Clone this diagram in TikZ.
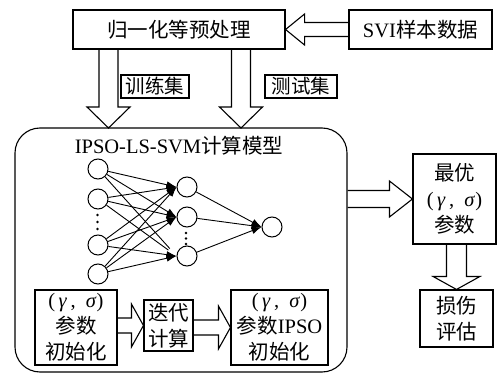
\documentclass[tikz,border=0pt]{standalone}
\usepackage{fontspec}
\setmainfont{Liberation Serif}
\newfontfamily\cjk{Noto Sans CJK SC}
\usetikzlibrary{arrows.meta,calc}
\newcommand\zh[1]{{\cjk #1}}
\newcommand\gs{(\,\textit{γ}\,,\enspace\textit{σ})}
% block arrows: #1 start anchor, #2 tip anchor, #3 body half width, #4 head half width, #5 head length
\newcommand\rightblock[5]{\draw[blockarr] let \p1=(#1),\p2=(#2) in
  (\x1,\y2+#3) -- (\x2-#5,\y2+#3) -- (\x2-#5,\y2+#4) -- (\x2,\y2) -- (\x2-#5,\y2-#4) -- (\x2-#5,\y2-#3) -- (\x1,\y2-#3);}
\newcommand\leftblock[5]{\draw[blockarr] let \p1=(#1),\p2=(#2) in
  (\x1,\y2+#3) -- (\x2+#5,\y2+#3) -- (\x2+#5,\y2+#4) -- (\x2,\y2) -- (\x2+#5,\y2-#4) -- (\x2+#5,\y2-#3) -- (\x1,\y2-#3);}
\newcommand\downblock[5]{\draw[blockarr] let \p1=(#1),\p2=(#2) in
  (\x2-#3,\y1) -- (\x2-#3,\y2+#5) -- (\x2-#4,\y2+#5) -- (\x2,\y2) -- (\x2+#4,\y2+#5) -- (\x2+#3,\y2+#5) -- (\x2+#3,\y1);}
\tikzset{
  box/.style={draw, line width=1.1pt, inner sep=0pt, align=center, font=\fontsize{20.5}{26}\selectfont},
  lbl/.style={box, font=\fontsize{19.5}{24}\selectfont},
  neuron/.style={draw, circle, line width=1pt, minimum size=20pt, inner sep=0pt},
  blockarr/.style={line width=1.1pt, line join=miter},
  nnarr/.style={line width=0.9pt, -{Latex[length=10pt,width=7pt]}},
  nnline/.style={line width=0.9pt},
  dotmark/.style={fill, circle, inner sep=0pt, minimum size=2.8pt},
}
\begin{document}
\begin{tikzpicture}[x=1pt,y=-1pt]
\useasboundingbox (0,0) rectangle (498,377);
% top row
\node[box, minimum width=212pt, minimum height=39pt] (pre) at (179,29.5) {\zh{归一化等预处理}};
\node[box, minimum width=143pt, minimum height=39pt] (svi) at (420.5,29.5) {SVI\zh{样本数据}};
\leftblock{svi.west}{pre.east}{7pt}{15.5pt}{19pt}
% model box
\node[draw, line width=1.1pt, rounded corners=25pt, minimum width=332pt, minimum height=244pt] (model) at (181,250) {};
\node[font=\fontsize{20.5}{26}\selectfont, inner sep=0pt] (title) at (179,146) {IPSO-LS-SVM\zh{计算模型}};
% down arrows into model
\coordinate (trainTip) at (108.5,128);
\coordinate (testTip) at (241,128);
\downblock{pre.south}{trainTip}{9.5pt}{21.5pt}{21pt}
\downblock{pre.south}{testTip}{9.5pt}{21.5pt}{21pt}
\node[lbl, minimum width=68pt, minimum height=23pt] (trainlbl) at (155,86.5) {\zh{训练集}};
\node[lbl, minimum width=72pt, minimum height=23pt] (testlbl) at (301,86.5) {\zh{测试集}};
% neural network
\node[neuron] (i1) at (98,169) {};
\node[neuron] (i2) at (98,199) {};
\node[neuron] (i3) at (98,245) {};
\node[neuron] (i4) at (98,274) {};
\node[neuron] (h1) at (187,187) {};
\node[neuron] (h2) at (187,217) {};
\node[neuron] (h3) at (187,256) {};
\node[neuron] (o) at (272,227) {};
\foreach \i in {1,...,4} {\foreach \j in {1,2} {\draw[nnarr] (i\i) -- (h\j.west);}}
\foreach \i in {3,4} {\draw[nnarr] (i\i) -- (h3.west);}
\foreach \i in {1,2} {\draw[nnline, shorten >=10pt] (i\i) -- (h3.west);}
\foreach \j in {1,2,3} {\draw[nnarr] (h\j) -- (o.west);}
\node[dotmark] (d1) at (97.5,215) {};
\node[dotmark] (d2) at (97.5,222) {};
\node[dotmark] (d3) at (97.5,229) {};
\node[dotmark] (d4) at (186,233) {};
\node[dotmark] (d5) at (186,238.5) {};
\node[dotmark] (d6) at (186,244) {};
% bottom boxes
\node[box, minimum width=82pt, minimum height=75pt] (A) at (76,327.5) {\gs\\\zh{参数}\\\zh{初始化}};
\node[box, minimum width=49pt, minimum height=51pt] (B) at (168.5,325.5) {\zh{迭代}\\\zh{计算}};
\node[box, minimum width=97pt, minimum height=75pt] (C) at (279.5,327.5) {\gs\\\zh{参数}IPSO\\\zh{初始化}};
\rightblock{A.east}{B.west}{7.5pt}{21.5pt}{12pt}
\rightblock{B.east}{C.west}{7.5pt}{21.5pt}{12pt}
% right column
\node[box, minimum width=83pt, minimum height=90pt] (best) at (454.5,199) {\zh{最优}\\\gs\\\zh{参数}};
\node[box, minimum width=73pt, minimum height=57pt] (dmg) at (456.5,318.5) {\zh{损伤}\\\zh{评估}};
\rightblock{model.east}{best.west}{8.5pt}{18pt}{23pt}
\downblock{best.south}{dmg.north}{10pt}{23.5pt}{13pt}
\end{tikzpicture}
\end{document}
